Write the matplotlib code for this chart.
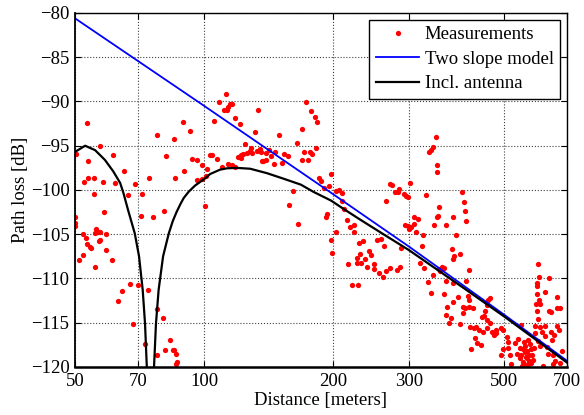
import matplotlib.pyplot as plt
from matplotlib.ticker import NullLocator

meas_dist = [
    50.3, 53.4, 53.5, 52.4, 53.5, 55.4, 57.3, 58.0, 55.3, 61.2, 62.0, 65.0, 66.6, 68.9, 71.7, 74.5,
    77.7, 81.3, 85.3, 85.2, 89.1, 89.6, 92.9, 93.9, 96.0, 96.4, 98.6, 98.8, 58.4, 71.2, 76.1, 80.7,
    100.5, 50.1, 50.1, 50.1, 52.2, 53.1, 56.1, 56.7, 55.8, 57.3, 58.9, 57.1, 56.9, 53.4, 54.1, 54.6,
    59.2, 52.2, 51.2, 60.9, 55.7, 67.0, 70.2, 64.3, 73.8, 63.0, 77.7, 80.2, 68.2, 83.1, 72.9, 81.2,
    84.5, 85.2, 85.8, 77.7, 86.5, 86.1,
    101.7, 100.8, 105.2, 108.0, 112.5, 111.3, 113.2, 113.8, 114.8, 116.1, 117.8, 120.9, 133.6, 131.3,
    149.0, 164.1, 124.5, 128.4, 127.5, 129.4, 125.8, 123.1, 121.5, 119.6, 121.5, 132.9, 134.7, 135.9,
    141.3, 139.5, 146.4, 143.1, 137.0, 136.0, 139.0, 145.2, 151.6, 153.6, 156.5, 173.0, 177.3, 181.2,
    182.8, 169.2, 181.8, 171.0, 176.5, 178.4, 174.8, 168.6, 102.9, 104.2, 107.1, 110.3, 113.8, 116.1,
    117.8, 184.6, 186.8, 190.1, 161.3, 157.3, 194.8, 193.6, 192.6, 165.0, 196.9, 198.5, 196.9,
    202.7, 206.0, 209.3, 270.2, 274.0, 278.0, 285.0, 282.0, 292.6, 298.8, 295.0, 302.0, 265.0, 329.0,
    334.5, 338.0, 342.0, 346.0, 348.5, 348.5, 352.5, 209.3, 211.7, 214.8, 308.0, 314.6, 350.0, 348.0,
    380.0, 218.0, 223.0, 223.0, 202.7, 303.6, 308.6, 311.0, 293.6, 298.0, 300.0, 323.0, 321.5, 342.5,
    366.0, 229.3, 233.9, 262.0, 252.3, 257.7, 286.7, 241.8, 244.6, 230.0, 227.4, 237.0, 231.4, 226.5,
    239.0, 248.3, 249.0, 216.5, 254.8, 261.0, 265.6, 271.6, 280.6, 286.0, 220.5, 228.7, 318.0, 325.7,
    331.6, 337.8, 341.5, 351.7, 358.6, 355.0, 362.0, 362.0, 366.0, 379.7, 379.7, 368.6, 366.0, 375.6,
    372.3, 381.8, 378.0, 380.0,
    398.0, 403.0, 405.0, 408.0, 386.0, 394.0, 414.0, 408.0, 389.3, 412.0, 414.0, 400.0, 405.0, 414.0,
    423.5, 401.5, 394.6, 416.0, 418.0, 427.0, 433.0, 442.0, 426.0, 430.0, 436.0, 446.0, 455.0, 463.0,
    459.0, 455.0, 452.0, 449.0, 443.0, 455.0, 463.0, 467.0, 478.0, 473.0, 479.0, 490.0, 496.0, 496.0,
    492.0, 507.0, 511.0, 509.0, 515.0, 519.0, 530.0, 539.0, 535.0, 546.0, 544.0, 548.0, 553.0, 559.0,
    564.0, 569.0, 574.0, 580.0, 585.0, 545.0, 552.0, 556.0, 560.0, 562.0, 566.0, 570.0, 572.0, 576.0,
    578.0, 582.0, 565.0, 555.0, 568.0, 550.0,
    600.0, 602.0, 595.0, 597.0, 635.0, 623.0, 595.0, 602.0, 592.0, 607.0, 662.0, 675.0, 662.0, 636.0,
    642.0, 595.0, 600.0, 590.0, 605.0, 623.0, 665.0, 670.0, 590.0, 612.0, 641.0, 653.0, 622.0, 600.0,
    646.0, 607.0, 628.0, 633.0, 681.0, 650.0, 658.0, 673.0, 650.0, 617.0,
]
meas_loss = [
    -95.9, -92.4, -96.7, -99.1, -98.7, -98.6, -95.0, -99.1, -100.5, -96.1, -99.2, -97.8, -100.6, -99.3, -100.5, -98.7,
    -93.8, -96.2, -98.6, -94.2, -92.3, -97.8, -93.3, -96.5, -96.6, -98.9, -97.2, -98.8, -102.5, -102.9, -103.0, -102.4,
    -101.8, -103.0, -103.7, -104.1, -105.0, -105.4, -104.4, -104.7, -104.9, -104.8, -105.0, -105.6, -105.8, -106.1, -106.4, -106.6,
    -106.8, -107.4, -107.9, -107.9, -108.7, -110.6, -110.7, -111.4, -111.3, -112.6, -113.4, -114.5, -115.1, -116.9, -117.4, -118.1,
    -118.1, -118.1, -118.5, -118.6, -119.4, -119.7,
    -97.6, -98.4, -92.2, -90.1, -89.1, -91.0, -91.0, -90.6, -90.3, -90.3, -91.9, -92.5, -91.0, -93.5,
    -93.8, -94.7, -94.8, -95.2, -95.6, -95.8, -95.8, -95.9, -96.1, -96.3, -96.4, -95.6, -95.4, -95.7,
    -95.5, -95.8, -95.7, -96.2, -96.7, -96.7, -96.6, -97.1, -97.0, -95.9, -96.2, -90.1, -91.1, -91.8,
    -92.3, -93.1, -95.3, -95.7, -95.7, -95.9, -96.6, -96.6, -96.0, -96.1, -96.5, -97.4, -97.1, -97.2,
    -97.4, -98.6, -99.0, -99.8, -100.1, -101.7, -99.5, -102.7, -103.0, -103.8, -105.6, -107.1, -98.2,
    -100.1, -100.0, -100.3, -99.3, -99.4, -100.2, -99.9, -100.2, -100.5, -100.8, -100.7, -99.2, -101.2, -100.6,
    -95.7, -95.5, -95.1, -94.0, -97.2, -98.0, -101.9, -101.2, -102.1, -103.4, -103.0, -103.3, -102.9, -103.1,
    -103.1, -104.2, -104.0, -104.7, -104.8, -104.2, -103.8, -104.7, -103.9, -104.1, -104.4, -105.1, -106.3, -104.0,
    -104.0, -106.0, -105.8, -106.3, -105.6, -105.5, -106.6, -106.9, -107.3, -107.2, -107.7, -107.8, -108.3, -108.2,
    -108.7, -108.4, -108.9, -108.4, -109.4, -109.8, -109.1, -108.8, -109.0, -108.7, -110.7, -110.7, -108.3, -108.8,
    -110.4, -111.6, -109.6, -108.9, -108.7, -109.2, -108.8, -111.8, -110.3, -110.5, -112.7, -113.2, -114.1, -114.5,
    -115.0, -107.5, -106.7, -107.8,
    -100.2, -101.4, -102.4, -103.5, -105.1, -107.2, -109.0, -110.3, -112.1, -112.0, -112.4, -113.2, -113.3, -113.2,
    -113.3, -113.9, -115.1, -115.5, -118.0, -116.7, -117.3, -117.5, -115.6, -115.5, -115.8, -116.0, -115.6, -112.2,
    -112.4, -113.0, -113.7, -114.2, -114.3, -114.7, -115.0, -116.0, -116.2, -116.4, -115.8, -115.6, -115.8, -118.0,
    -118.6, -116.6, -117.2, -117.8, -118.7, -119.7, -117.3, -116.8, -118.5, -115.3, -117.8, -118.7, -119.4, -118.3,
    -119.0, -119.7, -117.4, -118.7, -117.8, -119.0, -118.0, -119.8, -117.6, -118.9, -118.2, -118.6, -119.3, -118.0,
    -119.6, -119.2, -119.9, -117.2, -117.0, -119.9,
    -108.4, -109.8, -110.5, -110.9, -109.9, -111.5, -111.8, -112.4, -112.9, -112.9, -112.1, -113.3, -113.3, -113.7,
    -113.8, -113.7, -114.6, -115.4, -115.5, -115.4, -115.4, -115.8, -116.2, -116.0, -116.0, -116.4, -116.5, -117.1,
    -117.0, -117.6, -117.7, -118.5, -118.2, -118.7, -119.3, -119.6, -119.7, -119.9,
]

# two slope model
model_dist = [50, 100, 200, 300, 500, 700]
model_loss = [-80.6, -90.5, -100.5, -106.4, -114.1, -119.3]

# model including antenna pattern
ant_dist = [50, 52.8, 55.7, 58.7, 61.4, 63.7, 64.8, 66.5, 68.9, 70.5, 71.9, 72.8, 73.5, 74.2, 74.9,
            75.6, 76.4, 77.2, 78.3, 80.2, 82.7, 84.5, 86.2, 88.0, 89.6, 92.0, 95.2, 100.4, 103.2, 108.9,
            113, 119, 128, 140, 152.5, 168, 179.5, 197.5, 210.6, 230, 261.5, 300, 400, 500, 700]
ant_loss = [-95.7, -95.0, -95.5, -96.6, -97.9, -99.2, -100.3, -102.3, -104.9, -107.5, -111.3, -115.1, -120, -125, -140,
            -125, -120, -115.1, -111.3, -107.5, -104.9, -103.5, -102.5, -101.6, -100.9, -100.2, -99.5, -98.7, -98.2, -97.7,
            -97.55, -97.5, -97.6, -98.1, -98.7, -99.4, -100.2, -101.2, -102.1, -103.3, -105.0, -106.8, -111.0, -114.3, -119.5]

xticks = [50, 70, 100, 200, 300, 500, 700]
yticks = [-120, -115, -110, -105, -100, -95, -90, -85, -80]

plt.rcParams['font.family'] = 'Liberation Serif'
plt.rcParams['font.size'] = 13.5

fig = plt.figure(figsize=(5.84, 4.15), dpi=100)
ax = fig.add_axes([0.1284, 0.1157, 0.8425, 0.853])

ax.plot(meas_dist, meas_loss, 'o', color='red', ms=3.8, mec='none', label='Measurements')
ax.plot(model_dist, model_loss, color='blue', lw=1.3, label='Two slope model')
ax.plot(ant_dist, ant_loss, color='black', lw=1.6, label='Incl. antenna')

ax.set_xscale('log')
ax.set_xlim(50, 700)
ax.set_ylim(-120, -80)
ax.set_xticks(xticks)
ax.set_xticklabels([str(t) for t in xticks])
ax.xaxis.set_minor_locator(NullLocator())
ax.set_yticks(yticks)
ax.tick_params(direction='in', top=True, right=True, length=4, pad=4)
ax.grid(True, linestyle=':', color='0.25', lw=0.8)
for s in ax.spines.values():
    s.set_linewidth(1.0)
ax.spines['bottom'].set_linewidth(1.8)
ax.spines['left'].set_linewidth(1.3)

ax.set_xlabel('Distance [meters]', labelpad=2)
ax.set_ylabel('Path loss [dB]', labelpad=1)

leg = ax.legend(loc='upper right', fancybox=False, edgecolor='black', framealpha=1,
                handlelength=2.3, handletextpad=0.3, borderaxespad=0.35, labelspacing=0.4,
                borderpad=0.35)
leg.get_frame().set_linewidth(1.0)

fig.savefig('out.png', dpi=100)
